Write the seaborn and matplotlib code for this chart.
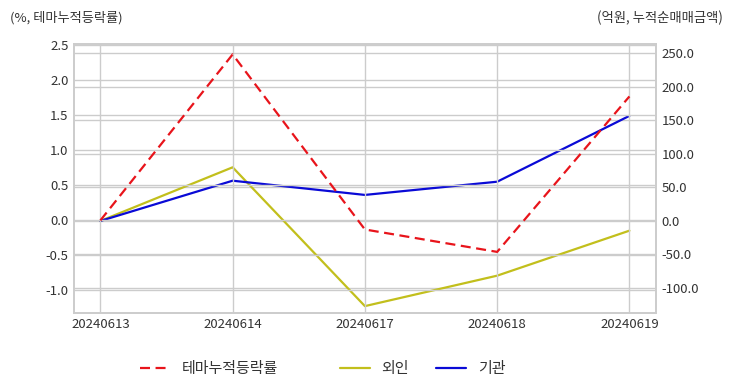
import numpy as np
import pandas as pd
import matplotlib
matplotlib.use('Agg')
import matplotlib.pyplot as plt
import seaborn as sns

dates = ['20240613', '20240614', '20240617', '20240618', '20240619']
theme_rate = [0.0, 2.37, -0.13, -0.45, 1.77]       # %, left axis
foreign_amt = [0.0, 80.0, -127.0, -81.6, -14.5]    # 억원, right axis
inst_amt = [0.0, 60.0, 38.8, 58.5, 156.7]          # 억원, right axis

left_ticks = [-1.0, -0.5, 0.0, 0.5, 1.0, 1.5, 2.0, 2.5]
right_ticks = [-100, -50, 0, 50, 100, 150, 200, 250]

sns.set_theme(style='whitegrid')
plt.rcParams['font.family'] = ['Noto Sans CJK KR', 'DejaVu Sans']
text_color = '#333333'
grid_color = '#cccccc'

df = pd.DataFrame({
    'pos': np.arange(len(dates)),
    'theme': theme_rate,
    'foreign': foreign_amt,
    'inst': inst_amt,
})

fig, ax = plt.subplots(figsize=(7.32, 3.92), dpi=100)
fig.subplots_adjust(left=0.101, right=0.896, top=0.888, bottom=0.202)
ax2 = ax.twinx()

sns.lineplot(data=df, x='pos', y='theme', ax=ax, color='#e8141b',
             linestyle=(0, (4.5, 2.5)), linewidth=1.6, label='테마누적등락률', legend=False)
sns.lineplot(data=df, x='pos', y='foreign', ax=ax2, color='#c2bf1c',
             linewidth=1.6, label='외인', legend=False)
sns.lineplot(data=df, x='pos', y='inst', ax=ax2, color='#0a0ad6',
             linewidth=1.6, label='기관', legend=False)

ax.set_xlim(-0.2, len(dates) - 1 + 0.2)
ax.set_ylim(-1.32, 2.52)
ax2.set_ylim(-137, 264)
ax.set_xticks(df['pos'])
ax.set_xticklabels(dates)
ax.set_yticks(left_ticks)
ax.set_yticklabels([f'{v:.1f}' for v in left_ticks])
ax2.set_yticks(right_ticks)
ax2.set_yticklabels([f'{v:.1f}' for v in right_ticks])

for a in (ax, ax2):
    a.set_xlabel('')
    a.set_ylabel('')
    a.tick_params(axis='both', colors=text_color, labelsize=9.5, length=0, pad=4)
    a.grid(True, color=grid_color, linewidth=1)
    for s in a.spines.values():
        s.set_color(grid_color)
        s.set_linewidth(1.2)
ax2.grid(True, axis='y', color=grid_color, linewidth=1)
ax2.grid(False, axis='x')
ax.set_zorder(ax2.get_zorder() + 1)
ax.patch.set_visible(False)

fig.text(0.013, 0.955, '(%, 테마누적등락률)', fontsize=9.5, color=text_color,
         ha='left', va='center')
fig.text(0.987, 0.955, '(억원, 누적순매매금액)', fontsize=9.6, color=text_color,
         ha='right', va='center')

h1, l1 = ax.get_legend_handles_labels()
h2, l2 = ax2.get_legend_handles_labels()
leg_kw = dict(frameon=False, fontsize=10.8, handlelength=2.0,
              handletextpad=0.8, borderpad=0, borderaxespad=0)
leg1 = fig.legend(h1, l1, loc='center left', bbox_to_anchor=(0.191, 0.059), **leg_kw)
leg2 = fig.legend(h2, l2, loc='center left', bbox_to_anchor=(0.464, 0.059),
                  ncol=2, columnspacing=1.8, **leg_kw)
for leg in (leg1, leg2):
    for t in leg.get_texts():
        t.set_color(text_color)

fig.savefig('out.png', dpi=100)
